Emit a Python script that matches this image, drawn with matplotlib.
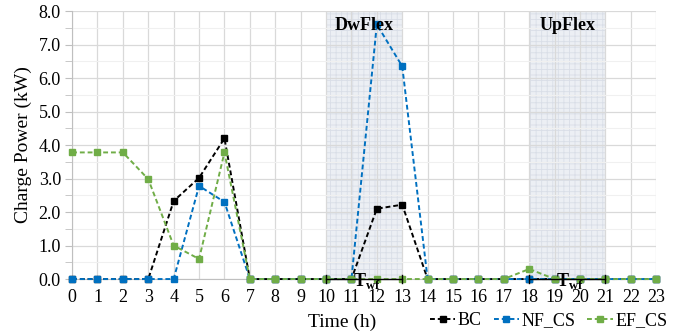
import matplotlib
matplotlib.use("Agg")
import matplotlib.pyplot as plt

hours = list(range(24))
bc = [0, 0, 0, 0, 2.33, 3.02, 4.2, 0, 0, 0, 0, 0, 2.1, 2.22, 0, 0, 0, 0, 0, 0, 0, 0, 0, 0]
nf_cs = [0, 0, 0, 0, 0, 2.78, 2.3, 0, 0, 0, 0, 0, 7.6, 6.35, 0, 0, 0, 0, 0, 0, 0, 0, 0, 0]
ef_cs = [3.78, 3.78, 3.78, 2.98, 1.0, 0.6, 3.78, 0, 0, 0, 0, 0, 0, 0, 0, 0, 0, 0, 0.3, 0, 0, 0, 0, 0]
series_names = ["BC", "NF_CS", "EF_CS"]
series_colors = ["#000000", "#0070C0", "#70AD47"]
flex_windows = [(10, 13, "DwFlex"), (18, 21, "UpFlex")]

plt.rcParams['font.family'] = ['Liberation Serif', 'DejaVu Serif']
plt.rcParams['mathtext.fontset'] = 'custom'
plt.rcParams['mathtext.rm'] = 'Liberation Serif'
plt.rcParams['mathtext.bf'] = 'Liberation Serif:bold'
plt.rcParams['hatch.linewidth'] = 0.6

fig = plt.figure(figsize=(6.8, 3.35), dpi=100)
ax = fig.add_axes([0.106, 0.167, 0.859, 0.800])

for x0, x1, lab in flex_windows:
    ax.axvspan(x0, x1, facecolor='#eceff4', edgecolor='#d9dee7', hatch='+++', lw=0, zorder=0)
    ax.text((x0 + x1) / 2, 7.58, lab, ha='center', va='center', fontsize=13,
            fontweight='bold', zorder=5)

ax.set_xlim(0, 23)
ax.set_ylim(0, 8)
ax.set_xticks(hours)
ax.set_yticks([i * 1.0 for i in range(9)])
ax.set_yticks([i + 0.5 for i in range(8)], minor=True)
ax.set_yticklabels([f"{i:.1f}" for i in range(9)])
ax.grid(True, which='major', color='#d9d9d9', lw=0.9, zorder=0.5)
ax.grid(True, which='minor', axis='y', color='#f0f0f0', lw=0.8, zorder=0.5)
ax.set_axisbelow(True)

for s in ['top', 'right']:
    ax.spines[s].set_visible(False)
ax.spines['left'].set_color('#bfbfbf')
ax.spines['bottom'].set_color('#bfbfbf')
ax.tick_params(axis='y', which='both', direction='out', length=5, color='#bfbfbf', labelsize=13, pad=3)
ax.tick_params(axis='x', length=0, labelsize=13, pad=7)

handles = []
for vals, name, col in zip([bc, nf_cs, ef_cs], series_names, series_colors):
    ln, = ax.plot(hours, vals, ls=(0, (2.5, 1.5)), lw=1.4, color=col, marker='s',
                  markersize=4.5, markeredgecolor=col, markerfacecolor=col, label=name,
                  clip_on=False, zorder=3)
    handles.append(ln)

# Twf windows
for x0, x1, _ in flex_windows:
    ax.plot([x0, x1], [0, 0], color='black', lw=1.0, zorder=4, clip_on=False)
    for xe in (x0, x1):
        ax.plot([xe, xe], [-0.12, 0.12], color='black', lw=1.0, zorder=4, clip_on=False)
    ax.text(x0 + 1.05, -0.05, r'$\mathbf{T}_{\mathbf{wf}}$', ha='left', va='center',
            fontsize=13, zorder=6)

ax.set_ylabel("Charge Power (kW)", fontsize=14, labelpad=5)
ax.set_xlabel("Time (h)", fontsize=14)
ax.xaxis.set_label_coords(0.463, -0.13)

fig.legend(handles=handles, loc='center', bbox_to_anchor=(0.807, 0.042), ncol=3,
           frameon=False, fontsize=13, handlelength=1.4, handletextpad=0.15,
           columnspacing=0.65, borderaxespad=0, borderpad=0)

fig.savefig("out.png", dpi=100)
